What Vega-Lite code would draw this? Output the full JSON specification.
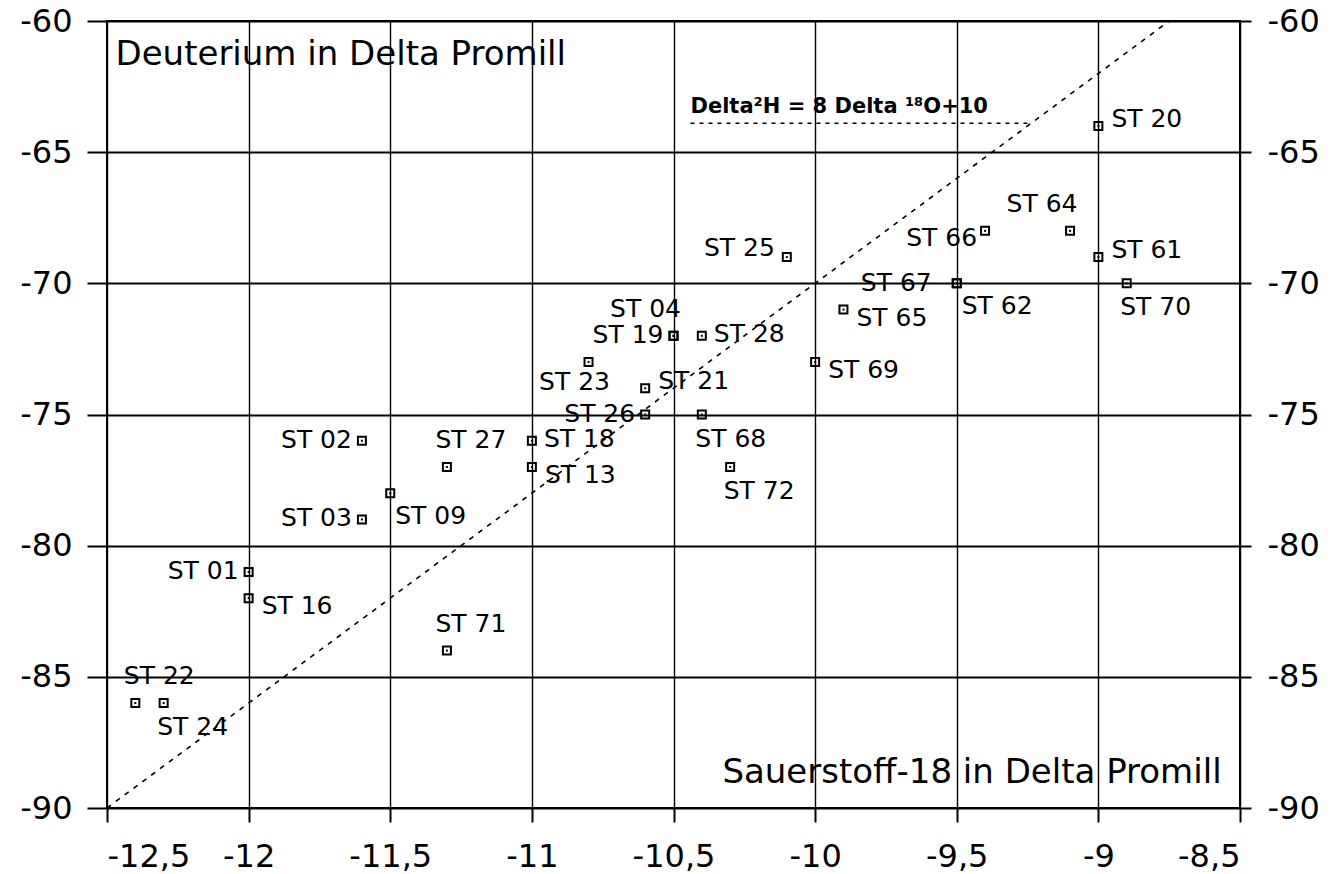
{
  "$schema": "https://vega.github.io/schema/vega-lite/v6.json",
  "width": 1133,
  "height": 787,
  "autosize": {"type": "none"},
  "padding": {"left": 107, "top": 21, "right": 96, "bottom": 66},
  "background": "white",
  "config": {
    "view": {"stroke": "black", "strokeWidth": 2},
    "font": "DejaVu Sans",
    "axis": {
      "labelFont": "DejaVu Sans",
      "labelFontSize": 32,
      "labelColor": "black",
      "tickColor": "black",
      "tickWidth": 2,
      "domain": false,
      "title": null
    }
  },
  "datasets": {
    "st": [
      {"id": "ST 20", "o18": -9.0, "h2": -64, "side": "rightup"},
      {"id": "ST 64", "o18": -9.1, "h2": -68, "side": "aboveleft"},
      {"id": "ST 66", "o18": -9.4, "h2": -68, "side": "leftdown"},
      {"id": "ST 61", "o18": -9.0, "h2": -69, "side": "rightup"},
      {"id": "ST 67", "o18": -9.5, "h2": -70, "side": "leftfar"},
      {"id": "ST 62", "o18": -9.5, "h2": -70, "side": "belowright"},
      {"id": "ST 70", "o18": -8.9, "h2": -70, "side": "below"},
      {"id": "ST 25", "o18": -10.1, "h2": -69, "side": "leftup"},
      {"id": "ST 65", "o18": -9.9, "h2": -71, "side": "rightdown"},
      {"id": "ST 04", "o18": -10.5, "h2": -72, "side": "aboveleft"},
      {"id": "ST 19", "o18": -10.5, "h2": -72, "side": "left"},
      {"id": "ST 28", "o18": -10.4, "h2": -72, "side": "right"},
      {"id": "ST 23", "o18": -10.8, "h2": -73, "side": "belowleft"},
      {"id": "ST 21", "o18": -10.6, "h2": -74, "side": "rightup"},
      {"id": "ST 26", "o18": -10.6, "h2": -75, "side": "left"},
      {"id": "ST 68", "o18": -10.4, "h2": -75, "side": "below"},
      {"id": "ST 69", "o18": -10.0, "h2": -73, "side": "rightdown"},
      {"id": "ST 18", "o18": -11.0, "h2": -76, "side": "right"},
      {"id": "ST 13", "o18": -11.0, "h2": -77, "side": "rightdown"},
      {"id": "ST 72", "o18": -10.3, "h2": -77, "side": "below"},
      {"id": "ST 27", "o18": -11.3, "h2": -77, "side": "above"},
      {"id": "ST 02", "o18": -11.6, "h2": -76, "side": "left"},
      {"id": "ST 03", "o18": -11.6, "h2": -79, "side": "left"},
      {"id": "ST 09", "o18": -11.5, "h2": -78, "side": "belowright"},
      {"id": "ST 01", "o18": -12.0, "h2": -81, "side": "left"},
      {"id": "ST 16", "o18": -12.0, "h2": -82, "side": "rightdown"},
      {"id": "ST 71", "o18": -11.3, "h2": -84, "side": "above"},
      {"id": "ST 22", "o18": -12.4, "h2": -86, "side": "above"},
      {"id": "ST 24", "o18": -12.3, "h2": -86, "side": "below"}
    ],
    "gmwl": [
      {"o18": -12.5, "h2": -90},
      {"o18": -8.75, "h2": -60}
    ],
    "legendline": [
      {"o18": -10.44, "h2": -63.9},
      {"o18": -9.25, "h2": -63.9}
    ]
  },
  "resolve": {"axis": {"x": "independent", "y": "independent"}},
  "layer": [
    {
      "data": {"name": "st"},
      "mark": {"type": "point", "shape": "square", "size": 64, "filled": false, "color": "black", "strokeWidth": 2, "opacity": 1},
      "encoding": {
        "x": {
          "field": "o18", "type": "quantitative",
          "scale": {"domain": [-12.5, -8.5], "nice": false, "zero": false},
          "axis": {
            "orient": "bottom",
            "values": [-12.5, -12, -11.5, -11, -10.5, -10, -9.5, -9, -8.5],
            "labelExpr": "replace('-' + abs(datum.value), '.', ',')",
            "tickSize": 14,
            "labelPadding": 19,
            "grid": true,
            "gridColor": "black",
            "gridWidth": 1.4,
            "gridOpacity": 1
          }
        },
        "y": {
          "field": "h2", "type": "quantitative",
          "scale": {"domain": [-90, -60], "nice": false, "zero": false},
          "axis": {
            "orient": "left",
            "values": [-90, -85, -80, -75, -70, -65, -60],
            "labelExpr": "'-' + abs(datum.value)",
            "tickSize": 20,
            "labelPadding": 15,
            "grid": true,
            "gridColor": "black",
            "gridWidth": 2,
            "gridOpacity": 1
          }
        }
      }
    },
    {
      "data": {"name": "st"},
      "mark": {"type": "point", "shape": "square", "size": 4, "filled": true, "color": "black", "opacity": 1},
      "encoding": {
        "x": {"field": "o18", "type": "quantitative", "axis": null},
        "y": {"field": "h2", "type": "quantitative", "axis": null}
      }
    },
    {
      "data": {"name": "gmwl"},
      "mark": {"type": "line", "color": "black", "strokeWidth": 1.6, "strokeDash": [5, 6]},
      "encoding": {
        "x": {"field": "o18", "type": "quantitative", "axis": null},
        "y": {
          "field": "h2", "type": "quantitative",
          "axis": {
            "orient": "right",
            "values": [-90, -85, -80, -75, -70, -65, -60],
            "labelExpr": "'-' + abs(datum.value)",
            "tickSize": 11,
            "labelPadding": 16,
            "grid": false
          }
        }
      }
    },
    {
      "data": {"name": "legendline"},
      "mark": {"type": "line", "color": "black", "strokeWidth": 1.6, "strokeDash": [4, 5]},
      "encoding": {
        "x": {"field": "o18", "type": "quantitative", "axis": null},
        "y": {"field": "h2", "type": "quantitative", "axis": null}
      }
    },
    {
      "data": {"values": [{}]},
      "mark": {"type": "text", "text": "Delta²H = 8 Delta ¹⁸O+10", "font": "DejaVu Sans", "fontWeight": "bold", "fontSize": 21, "align": "left", "baseline": "alphabetic", "color": "black"},
      "encoding": {
        "x": {"datum": -10.44, "type": "quantitative", "axis": null},
        "y": {"datum": -63.5, "type": "quantitative", "axis": null}
      }
    },
    {
      "data": {"values": [{}]},
      "mark": {"type": "text", "text": "Deuterium in Delta Promill", "font": "DejaVu Sans", "fontSize": 34, "align": "left", "baseline": "alphabetic", "color": "black"},
      "encoding": {
        "x": {"datum": -12.47, "type": "quantitative", "axis": null},
        "y": {"datum": -61.68, "type": "quantitative", "axis": null}
      }
    },
    {
      "data": {"values": [{}]},
      "mark": {"type": "text", "text": "Sauerstoff-18 in Delta Promill", "font": "DejaVu Sans", "fontSize": 34, "align": "right", "baseline": "alphabetic", "color": "black"},
      "encoding": {
        "x": {"datum": -8.565, "type": "quantitative", "axis": null},
        "y": {"datum": -89.05, "type": "quantitative", "axis": null}
      }
    },
    {
      "data": {"name": "st"},
      "transform": [{"filter": "datum.side == 'left'"}],
      "mark": {"type": "text", "fontSize": 25, "align": "right", "baseline": "middle", "dx": -10, "dy": -1, "color": "black"},
      "encoding": {"x": {"field": "o18", "type": "quantitative", "axis": null}, "y": {"field": "h2", "type": "quantitative", "axis": null}, "text": {"field": "id"}}
    },
    {
      "data": {"name": "st"},
      "transform": [{"filter": "datum.side == 'leftup'"}],
      "mark": {"type": "text", "fontSize": 25, "align": "right", "baseline": "middle", "dx": -12, "dy": -9, "color": "black"},
      "encoding": {"x": {"field": "o18", "type": "quantitative", "axis": null}, "y": {"field": "h2", "type": "quantitative", "axis": null}, "text": {"field": "id"}}
    },
    {
      "data": {"name": "st"},
      "transform": [{"filter": "datum.side == 'leftdown'"}],
      "mark": {"type": "text", "fontSize": 25, "align": "right", "baseline": "middle", "dx": -8, "dy": 7, "color": "black"},
      "encoding": {"x": {"field": "o18", "type": "quantitative", "axis": null}, "y": {"field": "h2", "type": "quantitative", "axis": null}, "text": {"field": "id"}}
    },
    {
      "data": {"name": "st"},
      "transform": [{"filter": "datum.side == 'leftfar'"}],
      "mark": {"type": "text", "fontSize": 25, "align": "right", "baseline": "middle", "dx": -25, "dy": 0, "color": "black"},
      "encoding": {"x": {"field": "o18", "type": "quantitative", "axis": null}, "y": {"field": "h2", "type": "quantitative", "axis": null}, "text": {"field": "id"}}
    },
    {
      "data": {"name": "st"},
      "transform": [{"filter": "datum.side == 'right'"}],
      "mark": {"type": "text", "fontSize": 25, "align": "left", "baseline": "middle", "dx": 12, "dy": -2, "color": "black"},
      "encoding": {"x": {"field": "o18", "type": "quantitative", "axis": null}, "y": {"field": "h2", "type": "quantitative", "axis": null}, "text": {"field": "id"}}
    },
    {
      "data": {"name": "st"},
      "transform": [{"filter": "datum.side == 'rightup'"}],
      "mark": {"type": "text", "fontSize": 25, "align": "left", "baseline": "middle", "dx": 13, "dy": -7, "color": "black"},
      "encoding": {"x": {"field": "o18", "type": "quantitative", "axis": null}, "y": {"field": "h2", "type": "quantitative", "axis": null}, "text": {"field": "id"}}
    },
    {
      "data": {"name": "st"},
      "transform": [{"filter": "datum.side == 'rightdown'"}],
      "mark": {"type": "text", "fontSize": 25, "align": "left", "baseline": "middle", "dx": 13, "dy": 8, "color": "black"},
      "encoding": {"x": {"field": "o18", "type": "quantitative", "axis": null}, "y": {"field": "h2", "type": "quantitative", "axis": null}, "text": {"field": "id"}}
    },
    {
      "data": {"name": "st"},
      "transform": [{"filter": "datum.side == 'above'"}],
      "mark": {"type": "text", "fontSize": 25, "align": "center", "baseline": "middle", "dx": 24, "dy": -27, "color": "black"},
      "encoding": {"x": {"field": "o18", "type": "quantitative", "axis": null}, "y": {"field": "h2", "type": "quantitative", "axis": null}, "text": {"field": "id"}}
    },
    {
      "data": {"name": "st"},
      "transform": [{"filter": "datum.side == 'aboveleft'"}],
      "mark": {"type": "text", "fontSize": 25, "align": "center", "baseline": "middle", "dx": -28, "dy": -27, "color": "black"},
      "encoding": {"x": {"field": "o18", "type": "quantitative", "axis": null}, "y": {"field": "h2", "type": "quantitative", "axis": null}, "text": {"field": "id"}}
    },
    {
      "data": {"name": "st"},
      "transform": [{"filter": "datum.side == 'below'"}],
      "mark": {"type": "text", "fontSize": 25, "align": "center", "baseline": "middle", "dx": 29, "dy": 24, "color": "black"},
      "encoding": {"x": {"field": "o18", "type": "quantitative", "axis": null}, "y": {"field": "h2", "type": "quantitative", "axis": null}, "text": {"field": "id"}}
    },
    {
      "data": {"name": "st"},
      "transform": [{"filter": "datum.side == 'belowright'"}],
      "mark": {"type": "text", "fontSize": 25, "align": "left", "baseline": "middle", "dx": 5, "dy": 23, "color": "black"},
      "encoding": {"x": {"field": "o18", "type": "quantitative", "axis": null}, "y": {"field": "h2", "type": "quantitative", "axis": null}, "text": {"field": "id"}}
    },
    {
      "data": {"name": "st"},
      "transform": [{"filter": "datum.side == 'belowleft'"}],
      "mark": {"type": "text", "fontSize": 25, "align": "center", "baseline": "middle", "dx": -14, "dy": 20, "color": "black"},
      "encoding": {"x": {"field": "o18", "type": "quantitative", "axis": null}, "y": {"field": "h2", "type": "quantitative", "axis": null}, "text": {"field": "id"}}
    }
  ]
}
